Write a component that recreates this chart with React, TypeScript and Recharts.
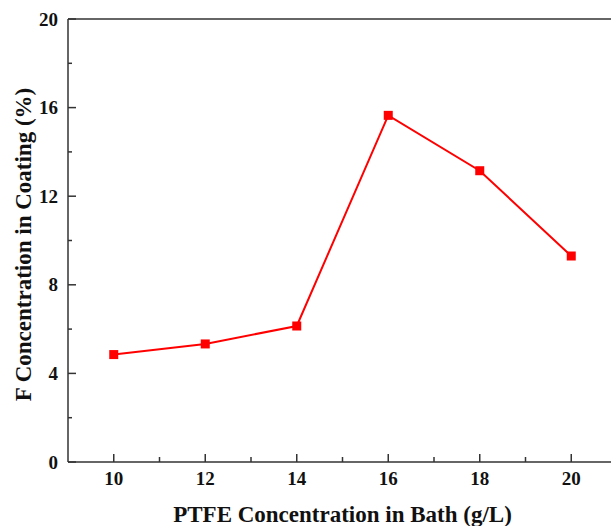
import React from "react";
import { LineChart, Line, XAxis, YAxis, ReferenceLine } from "recharts";

const ptfe = [10, 12, 14, 16, 18, 20];
const fConc = [4.85, 5.33, 6.14, 15.65, 13.15, 9.3];
const xTicks = [10, 11, 12, 13, 14, 15, 16, 17, 18, 19, 20];
const xMajor = [10, 12, 14, 16, 18, 20];
const yTicks = [0, 2, 4, 6, 8, 10, 12, 14, 16, 18, 20];
const yMajor = [0, 4, 8, 12, 16, 20];

const data = ptfe.map((x, i) => ({ x, y: fConc[i] }));

const FONT = "'Liberation Serif', 'Times New Roman', serif";
const AXIS = "#333";

const XTick = (props: any) => {
  const { x, y, payload } = props;
  const major = xMajor.includes(payload.value);
  return (
    <g>
      <line x1={x} x2={x} y1={y} y2={y - (major ? 8 : 5)} stroke={AXIS} strokeWidth={1.5} />
      {major && (
        <text x={x} y={y + 23} textAnchor="middle" fontFamily={FONT} fontWeight="bold" fontSize={19} fill="#111">
          {payload.value}
        </text>
      )}
    </g>
  );
};

const YTick = (props: any) => {
  const { x, y, payload } = props;
  const major = yMajor.includes(payload.value);
  return (
    <g>
      <line x1={x} x2={x + (major ? 8 : 4)} y1={y} y2={y} stroke={AXIS} strokeWidth={1.5} />
      {major && (
        <text x={x - 10} y={y + 6.5} textAnchor="end" fontFamily={FONT} fontWeight="bold" fontSize={19} fill="#111">
          {payload.value}
        </text>
      )}
    </g>
  );
};

const SquareDot = (props: any) => {
  const { cx, cy } = props;
  if (cx == null || cy == null) return null;
  return <rect x={cx - 4.5} y={cy - 4.5} width={9} height={9} fill="#ff0000" />;
};

export default function App() {
  return (
    <div style={{ position: "absolute", left: 0, top: 0, width: 611, height: 526, overflow: "hidden", background: "#fff" }}>
      <LineChart width={617} height={526} data={data} margin={{ top: 19, right: 0, left: 0, bottom: 0 }}>
        <XAxis
          dataKey="x"
          type="number"
          domain={[9, 21]}
          ticks={xTicks}
          interval={0}
          height={64}
          tickSize={0}
          tickMargin={0}
          tickLine={false}
          tick={<XTick />}
          axisLine={{ stroke: AXIS, strokeWidth: 1.5 }}
          label={{
            content: (p: any) => {
              const vb = p.viewBox;
              return (
                <text x={vb.x + vb.width / 2} y={vb.y + 60} textAnchor="middle" fontFamily={FONT} fontWeight="bold" fontSize={23} fill="#111">
                  PTFE Concentration in Bath (g/L)
                </text>
              );
            },
          }}
        />
        <YAxis
          type="number"
          domain={[0, 20]}
          ticks={yTicks}
          interval={0}
          width={68}
          tickSize={0}
          tickMargin={0}
          tickLine={false}
          tick={<YTick />}
          axisLine={{ stroke: AXIS, strokeWidth: 1.5 }}
          label={{
            content: (p: any) => {
              const vb = p.viewBox;
              const cx = vb.x + 23;
              const cy = vb.y + vb.height / 2 + 4;
              return (
                <text
                  x={cx}
                  y={cy}
                  transform={`rotate(-90 ${cx} ${cy})`}
                  textAnchor="middle"
                  dominantBaseline="central"
                  fontFamily={FONT}
                  fontWeight="bold"
                  fontSize={23}
                  fill="#111"
                >
                  F Concentration in Coating (%)
                </text>
              );
            },
          }}
        />
        <ReferenceLine y={20} stroke={AXIS} strokeWidth={1.5} />
        <Line
          dataKey="y"
          stroke="#ff0000"
          strokeWidth={2}
          dot={<SquareDot />}
          activeDot={false}
          isAnimationActive={false}
        />
      </LineChart>
    </div>
  );
}
